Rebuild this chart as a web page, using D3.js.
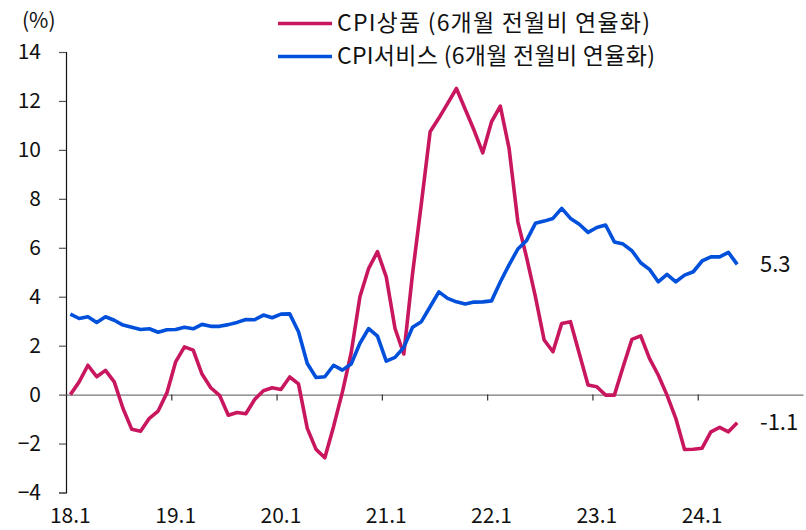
<!DOCTYPE html>
<html>
<head>
<meta charset="utf-8">
<script src="https://cdn.jsdelivr.net/npm/d3@7"></script>
<style>
	body { margin: 0; background: #fff; }
	text { font-family: "Noto Sans CJK KR", "Noto Sans", sans-serif; fill: #111; }
</style>
</head>
<body>
<div class="chartWrapper"></div>
<script>
// chart data (monthly, 18.1 ~ 24.5)
let seriesNames = ['CPI상품 (6개월 전월비 연율화)', 'CPI서비스 (6개월 전월비 연율화)'];
let goods = [0.0, 0.52, 1.2, 0.73, 0.99, 0.52, -0.57, -1.42, -1.5, -0.97, -0.67, 0.07,
	1.34, 1.95, 1.82, 0.84, 0.28, -0.03, -0.84, -0.73, -0.78, -0.2, 0.16, 0.28,
	0.21, 0.72, 0.44, -1.38, -2.24, -2.58, -1.3, 0.1, 1.7, 4.0, 5.16, 5.84,
	4.81, 2.7, 1.66, 4.95, 7.8, 10.74, 11.3, 11.9, 12.51, 11.66, 10.81, 9.88,
	11.15, 11.79, 10.06, 7.06, 5.6, 4.0, 2.23, 1.75, 2.91, 2.98, 1.68, 0.39,
	0.32, -0.02, -0.02, 1.14, 2.26, 2.4, 1.48, 0.8, -0.02, -0.97, -2.24, -2.23,
	-2.19, -1.52, -1.34, -1.52, -1.15];
let services = [3.29, 3.11, 3.18, 2.95, 3.18, 3.04, 2.84, 2.75, 2.66, 2.69, 2.55, 2.65,
	2.66, 2.75, 2.69, 2.87, 2.79, 2.79, 2.86, 2.95, 3.07, 3.06, 3.25, 3.14,
	3.29, 3.3, 2.57, 1.27, 0.7, 0.73, 1.2, 1.0, 1.25, 2.1, 2.7, 2.39,
	1.37, 1.52, 1.93, 2.75, 2.98, 3.59, 4.2, 3.93, 3.79, 3.7, 3.78, 3.79,
	3.83, 4.6, 5.3, 5.95, 6.3, 7.0, 7.09, 7.2, 7.61, 7.2, 6.96, 6.63,
	6.83, 6.93, 6.24, 6.15, 5.88, 5.39, 5.12, 4.61, 4.91, 4.61, 4.88, 5.02,
	5.46, 5.63, 5.63, 5.81, 5.32];
let yearLabels = ['18.1', '19.1', '20.1', '21.1', '22.1', '23.1', '24.1'];
let yTicks = [-4, -2, 0, 2, 4, 6, 8, 10, 12, 14];
let endLabels = ['5.3', '-1.1'];
let colors = ['#C8175E', '#0050DC'];

let width = 806,
	height = 530,
	plotLeft = 66,
	plotRight = 803,
	plotTop = 52,
	plotBottom = 492.5,
	monthsShown = yearLabels.length * 12;

//Appends the svg
let svg = d3.select('.chartWrapper')
			.append('svg')
			.attr('width', width)
			.attr('height', height);

//Scales: one band per month
let months = d3.range(monthsShown);
let xScale = d3.scaleBand()
				.domain(months)
				.range([plotLeft, plotRight]);
let xMid = (i) => xScale(i) + xScale.bandwidth() / 2;

let yScale = d3.scaleLinear()
				.domain([-4, 14])
				.range([plotBottom, plotTop]);

//y-axis
let yAxis = d3.axisLeft(yScale)
			  .tickValues(yTicks)
			  .tickSize(7)
			  .tickPadding(18)
			  .tickFormat(d3.format('d'));
let yAxisGroup = svg.append('g')
					.attr('transform', 'translate(' + plotLeft + ',0)')
					.call(yAxis);
yAxisGroup.select('.domain').attr('stroke', '#111').attr('stroke-width', 1.2);
yAxisGroup.selectAll('.tick line').attr('stroke', '#555').attr('stroke-width', 1.2);
yAxisGroup.selectAll('.tick text')
		  .style('font-size', '21px')
		  .style('font-family', '"Noto Sans CJK KR", sans-serif')
		  .attr('fill', '#111');

//x-axis on zero line, ticks at year boundaries
let xAxis = d3.axisBottom(d3.scaleLinear().domain([0, monthsShown]).range([plotLeft, plotRight]))
			  .tickValues(d3.range(12, monthsShown, 12))
			  .tickSize(6)
			  .tickSizeOuter(0)
			  .tickFormat('');
let xAxisGroup = svg.append('g')
					.attr('transform', 'translate(0,' + yScale(0) + ')')
					.call(xAxis);
xAxisGroup.select('.domain').attr('stroke', '#777').attr('stroke-width', 1.2);
xAxisGroup.selectAll('.tick line').attr('stroke', '#333').attr('stroke-width', 1.2);

//x labels under the chart, at each january
svg.append('g')
   .selectAll('text')
   .data(yearLabels)
   .enter()
   .append('text')
   .attr('x', (d, i) => xMid(i * 12))
   .attr('y', 523)
   .attr('text-anchor', 'middle')
   .style('font-size', '21px')
   .text((d) => d);

//unit
svg.append('text')
   .attr('x', 22)
   .attr('y', 28)
   .style('font-size', '21px')
   .text('(%)');

//Lines
let line = d3.line()
			 .x((d, i) => xMid(i))
			 .y((d) => yScale(d));

[goods, services].forEach((series, k) => {
	svg.append('path')
	   .datum(series)
	   .attr('fill', 'none')
	   .attr('stroke', colors[k])
	   .attr('stroke-width', 3.6)
	   .attr('stroke-linejoin', 'round')
	   .attr('d', line);
});

//End value labels
svg.append('text')
   .attr('x', 760)
   .attr('y', yScale(services[services.length - 1]))
   .attr('dy', '0.35em')
   .style('font-size', '22px')
   .text(endLabels[0]);
svg.append('text')
   .attr('x', 760)
   .attr('y', yScale(goods[goods.length - 1]))
   .attr('dy', '0.35em')
   .style('font-size', '22px')
   .text(endLabels[1]);

//Legend
let legendWidths = [313, 318];
let legend = svg.append('g');
seriesNames.forEach((name, k) => {
	let ly = 23.5 + k * 33;
	legend.append('line')
		  .attr('x1', 278).attr('x2', 332)
		  .attr('y1', ly).attr('y2', ly)
		  .attr('stroke', colors[k])
		  .attr('stroke-width', 3.6);
	legend.append('text')
		  .attr('x', 337)
		  .attr('y', ly - 1)
		  .attr('dy', '0.35em')
		  .attr('textLength', legendWidths[k])
		  .attr('lengthAdjust', 'spacing')
		  .style('font-size', '23px')
		  .text(name);
});
</script>
</body>
</html>
